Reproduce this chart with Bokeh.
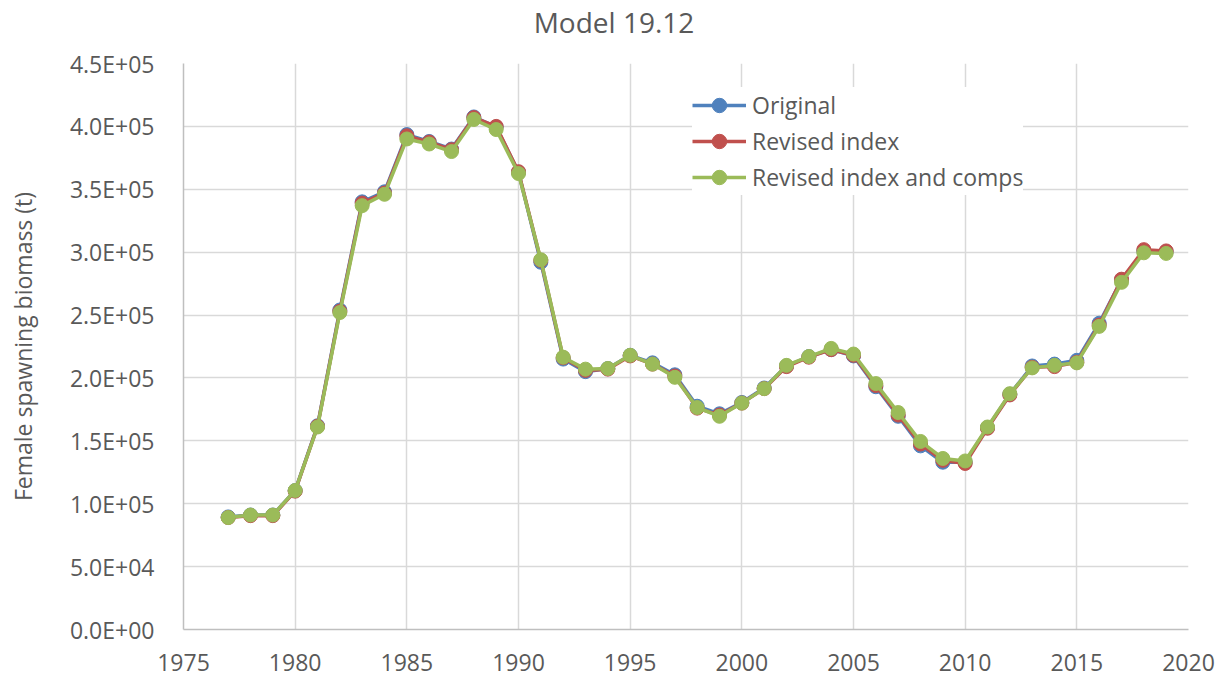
from bokeh.plotting import figure
from bokeh.models import FixedTicker, Legend, LegendItem, Div
from bokeh.layouts import column
from bokeh.embed import file_html
from bokeh.resources import INLINE

years = list(range(1977, 2020))

original = [89500, 91000, 91000, 110500, 162000, 254000, 340000, 348000, 393500, 388000,
            382000, 407500, 399500, 363500, 292000, 215000, 205000, 207500, 218000, 212000,
            202500, 177500, 171500, 180500, 192000, 209500, 217000, 222500, 217500, 193000,
            169500, 146000, 133000, 133000, 160500, 187000, 209500, 211000, 214000, 243500,
            278000, 301000, 300500]

revised_index = [89000, 90500, 90500, 110000, 161500, 253000, 339000, 347000, 392500, 387500,
                 381500, 407000, 400000, 364000, 293500, 216000, 206000, 207000, 217500, 211000,
                 201500, 176000, 170500, 180000, 191500, 209000, 216500, 222500, 218000, 194000,
                 170500, 147500, 134500, 132000, 160000, 186500, 208500, 209000, 212500, 242000,
                 278500, 302000, 301000]

revised_comps = [89000, 91000, 91000, 110500, 161000, 252000, 337000, 346000, 390000, 386000,
                 380000, 405500, 397500, 362500, 294000, 216500, 207000, 207500, 218000, 211000,
                 200500, 176500, 169500, 180000, 191500, 210000, 217000, 223500, 219000, 195500,
                 172500, 149500, 136000, 134000, 161000, 187500, 208000, 210000, 212000, 241000,
                 276000, 299500, 299000]

series_names = ["Original", "Revised index", "Revised index and comps"]
series_colors = ["#4F81BD", "#C0504D", "#9BBB59"]

x_ticks = [1975, 1980, 1985, 1990, 1995, 2000, 2005, 2010, 2015, 2020]
y_ticks = [0, 50000, 100000, 150000, 200000, 250000, 300000, 350000, 400000, 450000]
y_tick_labels = ["0.0E+00", "5.0E+04", "1.0E+05", "1.5E+05", "2.0E+05",
                 "2.5E+05", "3.0E+05", "3.5E+05", "4.0E+05", "4.5E+05"]

title_text = "Model 19.12"

FONT = "Open Sans"
TXT = "#595959"

W = 1220
TH = 44                      # title strip height
H = 679 - TH                 # figure height
FL, FR, FT, FB = 183, 1188, 63 - TH, 629 - TH   # frame edges inside the figure

title = Div(text=('<div style="width:%dpx;padding-left:8px;box-sizing:border-box;text-align:center;'
                  'font-family:\'Open Sans\';font-size:28px;color:%s;line-height:%dpx;">%s</div>')
                 % (W, TXT, TH, title_text),
            width=W, height=TH, margin=0)

p = figure(width=W, height=H, output_backend="svg", toolbar_location=None,
           x_range=(1975, 2020), y_range=(0, 450000),
           min_border_left=FL, min_border_right=W - FR, min_border_top=FT, min_border_bottom=H - FB)
p.outline_line_color = None
p.background_fill_color = "white"
p.margin = 0

p.xaxis.ticker = FixedTicker(ticks=x_ticks)
p.yaxis.ticker = FixedTicker(ticks=y_ticks)
p.yaxis.major_label_overrides = {v: s for v, s in zip(y_ticks, y_tick_labels)}
p.xaxis.major_label_overrides = {v: str(v) for v in x_ticks}

for ax in (p.xaxis, p.yaxis):
    ax.major_tick_line_color = None
    ax.minor_tick_line_color = None
    ax.axis_line_color = "#bfbfbf"
    ax.axis_line_width = 1.5
    ax.major_label_text_font = FONT
    ax.major_label_text_font_size = "23px"
    ax.major_label_text_color = TXT
    ax.axis_label_text_font = FONT
    ax.axis_label_text_font_size = "23px"
    ax.axis_label_text_color = TXT
    ax.axis_label_text_font_style = "normal"

p.xaxis.major_label_standoff = 18
p.yaxis.major_label_standoff = 23
p.yaxis.axis_label = "Female spawning biomass (t)"
p.yaxis.axis_label_standoff = 28

p.xgrid.ticker = FixedTicker(ticks=x_ticks)
p.ygrid.ticker = FixedTicker(ticks=y_ticks)
p.grid.grid_line_color = "#d9d9d9"
p.grid.grid_line_width = 1.5

items = []
for name, color, vals in zip(series_names, series_colors, [original, revised_index, revised_comps]):
    lr = p.line(years, vals, line_color=color, line_width=3.5)
    sr = p.scatter(years, vals, size=14, fill_color=color, line_color=color)
    items.append(LegendItem(label=name, renderers=[lr, sr]))

legend = Legend(items=items, location=(509, 434), label_text_font=FONT,
                label_text_font_size="23px", label_text_color=TXT,
                label_height=36, glyph_height=36, glyph_width=54, label_standoff=6,
                spacing=0, padding=10, margin=0, border_line_color=None,
                background_fill_color="white", background_fill_alpha=1.0)
p.add_layout(legend, "center")

layout = column(title, p, spacing=0)
open("out.html", "w").write(file_html(layout, INLINE))
